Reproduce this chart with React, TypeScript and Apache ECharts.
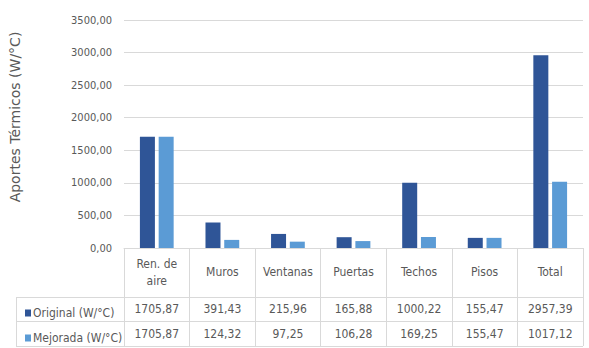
import React, { useEffect, useRef } from "react";
import * as echarts from "echarts";

const categories = ["Ren. de\naire", "Muros", "Ventanas", "Puertas", "Techos", "Pisos", "Total"];
const original = [1705.87, 391.43, 215.96, 165.88, 1000.22, 155.47, 2957.39];
const mejorada = [1705.87, 124.32, 97.25, 106.28, 169.25, 155.47, 1017.12];
const seriesNames = ["Original (W/°C)", "Mejorada (W/°C)"];
const yTitle = "Aportes Térmicos (W/°C)";

const fmt = (v: number) => v.toFixed(2).replace(".", ",");
const FONT = "'Liberation Sans Narrow', 'DejaVu Sans Condensed', 'Noto Sans', sans-serif";
const TXT = "#595959";
const LINE = "#d9d9d9";

export default function App() {
  const ref = useRef<HTMLDivElement>(null);
  useEffect(() => {
    const chart = echarts.init(ref.current!, null, { renderer: "svg" });
    const hidden = { show: false };
    const legendBase = {
      orient: "horizontal",
      left: 20,
      itemWidth: 6,
      itemHeight: 7,
      icon: "rect",
      selectedMode: false,
      textStyle: { fontSize: 12, color: TXT, fontFamily: FONT, padding: [0, 0, 0, -3] },
    };
    chart.setOption({
      animation: false,
      backgroundColor: "#ffffff",
      textStyle: { fontFamily: FONT },
      grid: { left: 124, right: 6, top: 20, bottom: 100, containLabel: false },
      legend: [
        { ...legendBase, top: 302, data: [seriesNames[0]] },
        { ...legendBase, top: 327, data: [seriesNames[1]] },
      ],
      xAxis: [
        {
          type: "category",
          data: categories,
          axisLine: { show: true, lineStyle: { color: LINE, width: 1 } },
          axisTick: { show: true, length: 98, lineStyle: { color: LINE } },
          axisLabel: { interval: 0, margin: 24, verticalAlign: "middle", fontSize: 12, color: TXT, lineHeight: 17, fontFamily: FONT },
        },
        {
          type: "category",
          data: original.map(fmt),
          position: "bottom",
          axisLine: hidden,
          axisTick: hidden,
          axisLabel: { interval: 0, margin: 61, verticalAlign: "middle", fontSize: 12, color: TXT, fontFamily: FONT },
        },
        {
          type: "category",
          data: mejorada.map(fmt),
          position: "bottom",
          axisLine: hidden,
          axisTick: hidden,
          axisLabel: { interval: 0, margin: 86, verticalAlign: "middle", fontSize: 12, color: TXT, fontFamily: FONT },
        },
      ],
      yAxis: {
        type: "value",
        min: 0,
        max: 3500,
        interval: 500,
        axisLine: hidden,
        axisTick: hidden,
        axisLabel: { margin: 12, fontSize: 11, color: TXT, fontFamily: FONT, formatter: (v: number) => fmt(v) },
        splitLine: { lineStyle: { color: LINE, width: 1 } },
      },
      graphic: [
        {
          type: "text",
          x: 15,
          y: 117,
          rotation: Math.PI / 2,
          style: { text: yTitle, fontSize: 14, fill: TXT, fontFamily: "'DejaVu Sans', sans-serif", align: "center", verticalAlign: "middle" },
        },
        { type: "line", shape: { x1: 16, y1: 297.5, x2: 583, y2: 297.5 }, style: { stroke: LINE, lineWidth: 1 } },
        { type: "line", shape: { x1: 16, y1: 321.5, x2: 583, y2: 321.5 }, style: { stroke: LINE, lineWidth: 1 } },
        { type: "line", shape: { x1: 16, y1: 346.5, x2: 583, y2: 346.5 }, style: { stroke: LINE, lineWidth: 1 } },
        { type: "line", shape: { x1: 16.5, y1: 297, x2: 16.5, y2: 347 }, style: { stroke: LINE, lineWidth: 1 } },
      ],
      series: [
        { name: seriesNames[0], type: "bar", data: original, barWidth: 15, barGap: "25%", itemStyle: { color: "#2f5597" } },
        { name: seriesNames[1], type: "bar", data: mejorada, barWidth: 15, itemStyle: { color: "#5b9bd5" } },
      ],
    });
    return () => chart.dispose();
  }, []);
  return <div ref={ref} style={{ width: 589, height: 348, position: "absolute", left: 0, top: 0 }} />;
}
